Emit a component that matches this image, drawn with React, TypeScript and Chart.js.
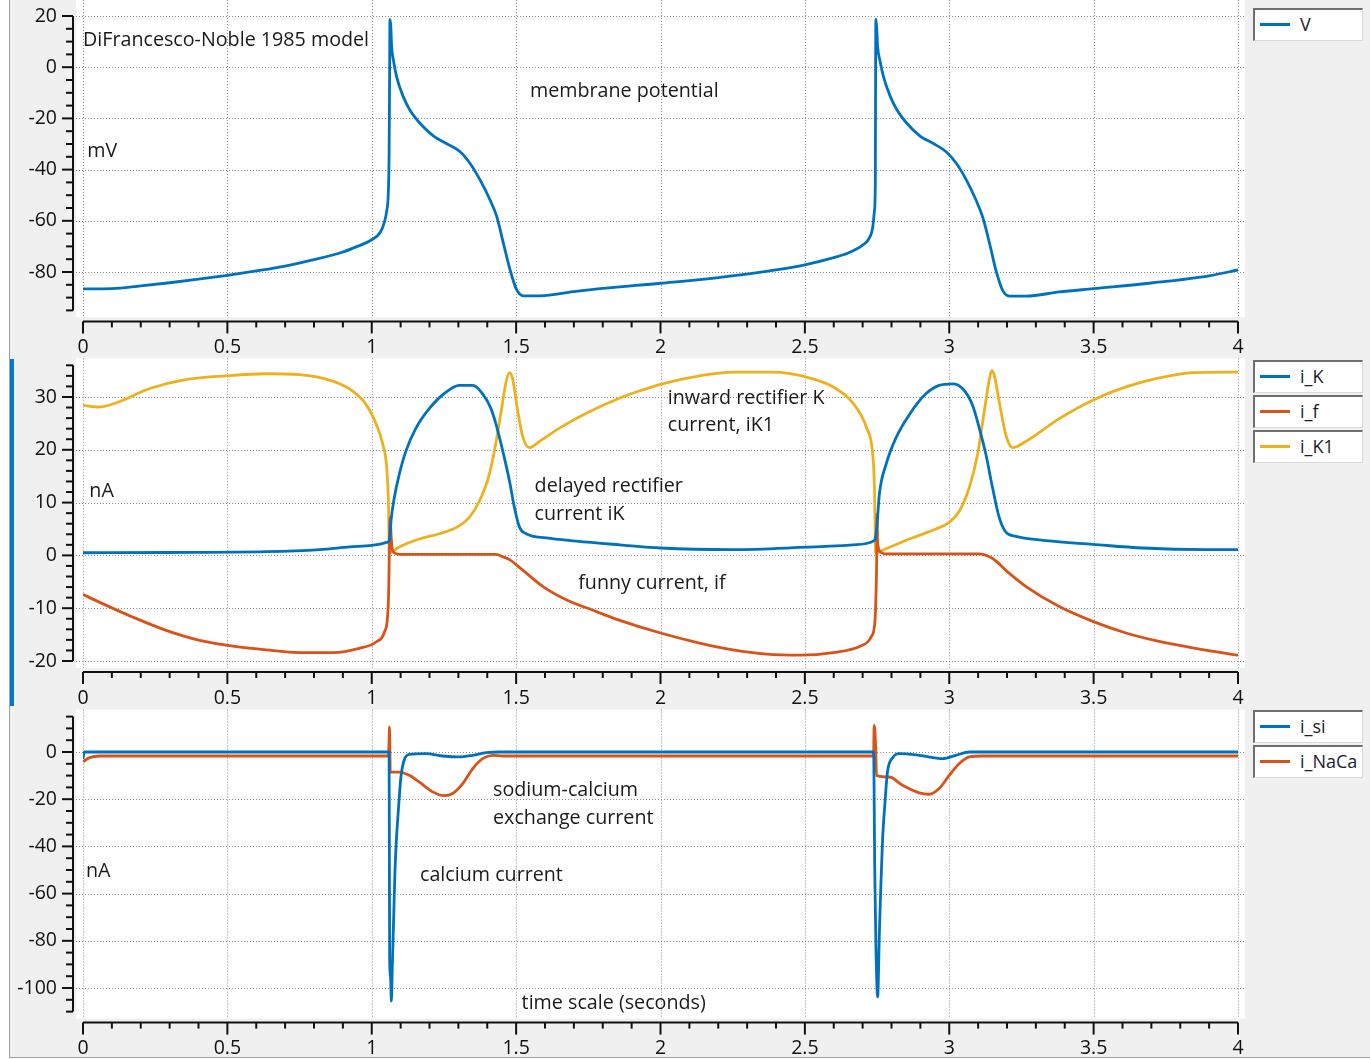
import React, { useEffect, useRef } from "react";
import { Chart, registerables } from "chart.js";

Chart.register(...registerables);

const FONT = "'Open Sans', 'Noto Sans', sans-serif";
const BLUE = "#0072BD";
const ORANGE = "#D95319";
const YELLOW = "#EDB120";

// ---- axis ticks ----
const TIME_TICKS = [0, 0.5, 1, 1.5, 2, 2.5, 3, 3.5, 4];
const TIME_MINOR_STEP = 0.1;
const V_TICKS = [-80, -60, -40, -20, 0, 20];
const MEMBRANE_TICKS = [-20, -10, 0, 10, 20, 30];
const CALCIUM_TICKS = [-100, -80, -60, -40, -20, 0];

// ---- series: [time (s), value] ----
const V_DATA: [number, number][] = [
  [0, -86.6], [0.1, -86.5], [0.2, -85.4], [0.3, -84.2], [0.4, -82.8], [0.5, -81.3], [0.6, -79.6],
  [0.7, -77.7], [0.8, -75.2], [0.9, -72.2], [0.95, -70], [1.0, -67.4], [1.03, -64.4], [1.045, -60],
  [1.052, -56], [1.057, -50], [1.06, -35], [1.062, 0], [1.063, 18.7], [1.066, 16], [1.069, 8],
  [1.075, 2.8], [1.086, -3.7], [1.109, -11.5], [1.132, -16.7], [1.167, -21.9], [1.213, -26.8],
  [1.26, -29.9], [1.306, -33], [1.34, -37.5], [1.375, -44], [1.41, -51.9], [1.433, -58.4],
  [1.456, -68.8], [1.479, -79.2], [1.502, -87], [1.525, -89.3], [1.583, -89.3], [1.698, -87.7],
  [1.8, -86.4], [2.0, -84.4], [2.2, -82.2], [2.4, -79.2], [2.5, -77.2], [2.6, -74.4], [2.65, -72.6],
  [2.7, -69.5], [2.72, -67.3], [2.735, -62.5], [2.741, -56], [2.744, -45], [2.745, 0], [2.746, 18.8],
  [2.749, 15], [2.752, 8], [2.76, 2.6], [2.772, -3.6], [2.795, -11.2], [2.818, -16.5], [2.85, -21.5],
  [2.9, -27], [2.945, -29.8], [2.99, -33.1], [3.025, -37.6], [3.06, -44.2], [3.093, -52],
  [3.116, -58.6], [3.14, -69], [3.162, -79.5], [3.185, -87.2], [3.208, -89.4], [3.266, -89.4],
  [3.381, -87.8], [3.5, -86.5], [3.7, -84.3], [3.9, -81.5], [4.0, -79.2],
];

const IK_DATA: [number, number][] = [
  [0, 0.5], [0.3, 0.55], [0.634, 0.7], [0.819, 1.1], [0.923, 1.6], [1.0, 1.9], [1.055, 2.5],
  [1.062, 3], [1.067, 6.7], [1.078, 10.9], [1.095, 15.3], [1.118, 19.7], [1.153, 24.1],
  [1.199, 27.8], [1.257, 30.9], [1.303, 32.2], [1.35, 32.2], [1.384, 30.6], [1.413, 27.8],
  [1.431, 24.7], [1.454, 19.7], [1.477, 14.1], [1.494, 9.1], [1.512, 5.3], [1.535, 4.1],
  [1.604, 3.3], [1.708, 2.7], [1.859, 2.0], [2.0, 1.4], [2.251, 1.1], [2.483, 1.5], [2.668, 2.0],
  [2.737, 2.7], [2.745, 3.5], [2.751, 6.6], [2.758, 11.6], [2.781, 17.2], [2.815, 22.2],
  [2.861, 26.6], [2.919, 30.6], [2.965, 32.2], [3.012, 32.5], [3.046, 31.6], [3.081, 28.4],
  [3.104, 24.1], [3.127, 19.1], [3.15, 12.8], [3.173, 7.2], [3.196, 4.4], [3.231, 3.6],
  [3.335, 2.8], [3.497, 2.1], [3.67, 1.4], [3.889, 1.1], [4.0, 1.1],
];

const IF_DATA: [number, number][] = [
  [0, -7.4], [0.058, -8.9], [0.173, -11.7], [0.288, -14.2], [0.404, -16.1], [0.496, -17.0],
  [0.634, -17.9], [0.75, -18.4], [0.865, -18.4], [0.957, -17.6], [1.015, -16.4], [1.044, -14.5],
  [1.055, -11.4], [1.059, -6], [1.061, 2], [1.063, 7.2], [1.068, 3], [1.072, 0.9], [1.095, 0.2],
  [1.431, 0.2], [1.455, -0.3], [1.477, -0.8], [1.523, -2.8], [1.593, -5.9], [1.674, -8.4],
  [1.766, -10.4], [1.859, -12.3], [2.0, -14.7], [2.135, -16.6], [2.251, -17.9], [2.367, -18.7],
  [2.483, -18.9], [2.598, -18.4], [2.691, -17.2], [2.731, -15.3], [2.743, -12.2], [2.747, -5.9],
  [2.749, 0.3], [2.75, 7.8], [2.752, 2.2], [2.763, 0.6], [2.775, 0.3], [3.104, 0.3], [3.15, -0.6],
  [3.208, -3.4], [3.266, -5.9], [3.381, -9.7], [3.497, -12.5], [3.612, -14.7], [3.727, -16.3],
  [3.843, -17.5], [4.0, -18.9],
];

const IK1_DATA: [number, number][] = [
  [0, 28.4], [0.058, 28.1], [0.115, 28.9], [0.231, 31.6], [0.346, 33.2], [0.496, 34.0],
  [0.634, 34.4], [0.75, 34.25], [0.865, 33.0], [0.934, 31.1], [0.98, 28.6], [1.015, 24.9],
  [1.038, 21.1], [1.052, 16.5], [1.058, 9.5], [1.061, 0.5], [1.095, 1.6], [1.164, 3.1],
  [1.234, 4.1], [1.303, 5.6], [1.338, 7.2], [1.373, 10.3], [1.407, 15.3], [1.431, 21.6],
  [1.448, 27.2], [1.465, 32.8], [1.477, 34.6], [1.488, 33.4], [1.506, 27.2], [1.523, 22.5],
  [1.546, 20.4], [1.581, 21.6], [1.65, 24.1], [1.743, 26.9], [1.859, 29.8], [1.93, 31.2],
  [2.0, 32.4], [2.135, 34.0], [2.251, 34.7], [2.39, 34.7], [2.506, 33.75], [2.598, 31.9],
  [2.668, 28.75], [2.714, 24.1], [2.735, 19.1], [2.741, 12.8], [2.745, 0.5], [2.781, 1.25],
  [2.861, 3.1], [2.954, 5.0], [3.0, 6.25], [3.035, 8.4], [3.069, 12.8], [3.098, 19.1],
  [3.121, 27.2], [3.139, 33.4], [3.147, 35.0], [3.156, 34.1], [3.173, 29.1], [3.196, 22.8],
  [3.219, 20.4], [3.266, 21.6], [3.381, 25.9], [3.497, 29.4], [3.612, 31.9], [3.727, 33.6],
  [3.843, 34.6], [4.0, 34.7],
];

const ISI_DATA: [number, number][] = [
  [0, -3], [0.004, 0], [1.06, 0], [1.061, -40], [1.062, -88], [1.065, -95], [1.068, -105.5],
  [1.071, -92], [1.076, -70], [1.08, -52], [1.085, -38], [1.093, -23.2], [1.101, -10.6],
  [1.112, -3.5], [1.13, -1.0], [1.188, -0.7], [1.245, -1.7], [1.303, -2.1], [1.35, -1.4],
  [1.396, -0.3], [1.442, 0], [2.738, 0], [2.742, -50], [2.746, -82], [2.752, -103.8],
  [2.758, -76.8], [2.763, -57], [2.769, -37.3], [2.778, -20.4], [2.786, -8.5], [2.804, -2.4],
  [2.827, -0.7], [2.896, -1.4], [2.977, -2.8], [3.023, -1.4], [3.069, 0], [4.0, 0],
];

const INACA_DATA: [number, number][] = [
  [0, -4.1], [0.023, -2.4], [0.058, -1.7], [1.058, -1.7], [1.06, 5], [1.061, 10.6], [1.063, 0],
  [1.064, -8.5], [1.095, -8.5], [1.13, -9.9], [1.164, -12.7], [1.211, -16.9], [1.251, -18.5],
  [1.28, -17.6], [1.315, -13.4], [1.35, -7.0], [1.384, -2.8], [1.419, -1.4], [1.454, -1.7],
  [2.734, -1.7], [2.738, -0.7], [2.74, 11.3], [2.745, 3], [2.748, -9.9], [2.792, -10.6],
  [2.838, -14.1], [2.896, -17.3], [2.931, -17.9], [2.965, -15.5], [3.0, -9.9], [3.035, -4.9],
  [3.069, -2.1], [3.115, -1.7], [4.0, -1.7],
];

type Series = { label: string; color: string; data: [number, number][] };
type Note = { text: string; x: number; y: number };
type PanelCfg = {
  top: number;
  height: number;
  padTop: number;
  xHeight: number;
  yMin: number;
  yMax: number;
  yTicks: number[];
  yMinor: number;
  whiteTop: number;
  legendTop: number;
  series: Series[];
  notes: Note[];
};

const PANELS: PanelCfg[] = [
  {
    top: 0, height: 355, padTop: 16, xHeight: 44.6,
    yMin: -95, yMax: 20, yTicks: V_TICKS, yMinor: 5, whiteTop: 16, legendTop: 8,
    series: [{ label: "V", color: BLUE, data: V_DATA }],
    notes: [
      { text: "DiFrancesco-Noble 1985 model", x: 0.0, y: 10.6 },
      { text: "membrane potential", x: 1.548, y: -9.3 },
      { text: "mV", x: 0.015, y: -32.8 },
    ],
  },
  {
    top: 355, height: 352, padTop: 10.3, xHeight: 46,
    yMin: -20, yMax: 36, yTicks: MEMBRANE_TICKS, yMinor: 2, whiteTop: 7, legendTop: 360,
    series: [
      { label: "i_K", color: BLUE, data: IK_DATA },
      { label: "i_f", color: ORANGE, data: IF_DATA },
      { label: "i_K1", color: YELLOW, data: IK1_DATA },
    ],
    notes: [
      { text: "inward rectifier K", x: 2.025, y: 29.8 },
      { text: "current, iK1", x: 2.025, y: 24.7 },
      { text: "nA", x: 0.022, y: 12.1 },
      { text: "delayed rectifier", x: 1.564, y: 13.0 },
      { text: "current iK", x: 1.564, y: 7.8 },
      { text: "funny current, if", x: 1.715, y: -5.3 },
    ],
  },
  {
    top: 707, height: 352, padTop: 9.6, xHeight: 47.4,
    yMin: -110, yMax: 15, yTicks: CALCIUM_TICKS, yMinor: 5, whiteTop: 7, legendTop: 710,
    series: [
      { label: "i_si", color: BLUE, data: ISI_DATA },
      { label: "i_NaCa", color: ORANGE, data: INACA_DATA },
    ],
    notes: [
      { text: "sodium-calcium", x: 1.42, y: -16.4 },
      { text: "exchange current", x: 1.42, y: -28.1 },
      { text: "calcium current", x: 1.167, y: -52.1 },
      { text: "nA", x: 0.01, y: -50.7 },
      { text: "time scale (seconds)", x: 1.519, y: -106.5 },
    ],
  },
];

const CANVAS_W = 1250;
const TICK_FONT = 19.5;
const NOTE_FONT = 19.7;

function makeDeco(cfg: PanelCfg) {
  return {
    id: "deco",
    beforeDraw(chart: any) {
      const { ctx, chartArea: a } = chart;
      const xs = chart.scales.x;
      const ys = chart.scales.y;
      const L = a.left - 7;
      const R = a.right + 7;
      const T = a.top - cfg.whiteTop;
      const B = a.bottom + 7;
      const seg = (x1: number, y1: number, x2: number, y2: number) => {
        ctx.beginPath();
        ctx.moveTo(x1, y1);
        ctx.lineTo(x2, y2);
        ctx.stroke();
      };
      ctx.save();
      ctx.fillStyle = "#ffffff";
      ctx.fillRect(L, T, R - L, B - T);
      // dotted grid
      ctx.strokeStyle = "#8c8c8c";
      ctx.lineWidth = 1;
      ctx.setLineDash([1, 2]);
      for (const v of TIME_TICKS) {
        const p = Math.round(xs.getPixelForValue(v)) + 0.5;
        seg(p, T, p, B);
      }
      for (const v of cfg.yTicks) {
        const p = Math.round(ys.getPixelForValue(v)) + 0.5;
        seg(L, p, R, p);
      }
      ctx.setLineDash([]);
      // y axis
      ctx.strokeStyle = "#111111";
      ctx.lineWidth = 2;
      const ax = a.left - 10;
      seg(ax, a.top, ax, a.bottom);
      const i0 = Math.ceil(cfg.yMin / cfg.yMinor - 1e-9);
      const i1 = Math.floor(cfg.yMax / cfg.yMinor + 1e-9);
      for (let i = i0; i <= i1; i++) {
        const v = i * cfg.yMinor;
        const p = ys.getPixelForValue(v);
        const major = cfg.yTicks.some((t) => Math.abs(t - v) < 1e-6);
        seg(ax - (major ? 11 : 7), p, ax, p);
      }
      // x axis
      const ay = a.bottom + 11;
      seg(a.left, ay, a.right, ay);
      const n = Math.round(4 / TIME_MINOR_STEP);
      for (let i = 0; i <= n; i++) {
        const v = i * TIME_MINOR_STEP;
        const p = xs.getPixelForValue(v);
        const major = TIME_TICKS.some((t) => Math.abs(t - v) < 1e-6);
        seg(p, ay, p, ay + (major ? 12 : 6));
      }
      ctx.restore();
    },
    afterDraw(chart: any) {
      const { ctx } = chart;
      const xs = chart.scales.x;
      const ys = chart.scales.y;
      ctx.save();
      ctx.font = `${NOTE_FONT}px ${FONT}`;
      ctx.fillStyle = "#1a1a1a";
      ctx.textAlign = "left";
      ctx.textBaseline = "middle";
      for (const n of cfg.notes) {
        ctx.fillText(n.text, xs.getPixelForValue(n.x), ys.getPixelForValue(n.y));
      }
      ctx.restore();
    },
  };
}

function Panel({ cfg }: { cfg: PanelCfg }) {
  const ref = useRef<HTMLCanvasElement>(null);
  useEffect(() => {
    const canvas = ref.current;
    if (!canvas) return;
    const chart = new Chart(canvas, {
      type: "line",
      data: {
        datasets: cfg.series.map((s) => ({
          label: s.label,
          data: s.data.map(([x, y]) => ({ x, y })),
          borderColor: s.color,
          backgroundColor: s.color,
          borderWidth: 2.8,
          pointRadius: 0,
          pointHoverRadius: 0,
          cubicInterpolationMode: "monotone",
          fill: false,
        })),
      },
      options: {
        animation: false,
        responsive: false,
        maintainAspectRatio: false,
        events: [],
        layout: { autoPadding: false, padding: { top: cfg.padTop, right: 12, bottom: 0, left: 0 } },
        plugins: { legend: { display: false }, tooltip: { enabled: false } },
        scales: {
          x: {
            type: "linear",
            min: 0,
            max: 4,
            afterBuildTicks: (s: any) => {
              s.ticks = TIME_TICKS.map((v) => ({ value: v }));
            },
            afterFit: (s: any) => {
              s.height = cfg.xHeight;
              s.paddingLeft = 0;
              s.paddingRight = 0;
            },
            grid: { display: false, drawTicks: false },
            border: { display: false },
            ticks: {
              autoSkip: false,
              maxRotation: 0,
              padding: 25.5,
              color: "#111111",
              font: { family: FONT, size: TICK_FONT },
              callback: (v: any) => String(v),
            },
          },
          y: {
            type: "linear",
            min: cfg.yMin,
            max: cfg.yMax,
            afterBuildTicks: (s: any) => {
              s.ticks = cfg.yTicks.map((v) => ({ value: v }));
            },
            afterFit: (s: any) => {
              s.width = 83;
              s.paddingTop = 0;
              s.paddingBottom = 0;
            },
            grid: { display: false, drawTicks: false },
            border: { display: false },
            ticks: {
              padding: 26,
              color: "#111111",
              font: { family: FONT, size: TICK_FONT },
              callback: (v: any) => String(v),
            },
          },
        },
      } as any,
      plugins: [makeDeco(cfg)],
    });
    return () => chart.destroy();
  }, [cfg]);
  return (
    <canvas
      ref={ref}
      width={CANVAS_W}
      height={cfg.height}
      style={{ position: "absolute", left: 0, top: cfg.top, width: CANVAS_W, height: cfg.height, display: "block" }}
    />
  );
}

function Legend({ cfg }: { cfg: PanelCfg }) {
  return (
    <>
      {cfg.series.map((s, i) => (
        <div
          key={s.label}
          style={{
            position: "absolute",
            left: 1253,
            top: cfg.legendTop + i * 35,
            width: 110,
            height: 33,
            boxSizing: "border-box",
            background: "#ffffff",
            borderTop: "2px solid #6f6f6f",
            borderLeft: "2px solid #6f6f6f",
            borderRight: "1px solid #dadada",
            borderBottom: "1px solid #dadada",
          }}
        >
          <div style={{ position: "absolute", left: 5, top: 13, width: 30, height: 3, background: s.color }} />
          <span
            style={{
              position: "absolute",
              left: 45,
              top: 2,
              font: `18px ${FONT}`,
              lineHeight: "24px",
              color: "#1c1c2c",
              whiteSpace: "nowrap",
            }}
          >
            {s.label}
          </span>
        </div>
      ))}
    </>
  );
}

export default function App() {
  return (
    <div
      style={{
        position: "absolute",
        left: 0,
        top: 0,
        width: 1370,
        height: 1059,
        overflow: "hidden",
        background: "#ffffff",
      }}
    >
      <div
        style={{
          position: "absolute",
          left: 9,
          top: 0,
          width: 1361,
          height: 1058,
          boxSizing: "border-box",
          background: "#f0f0f0",
          borderLeft: "1px solid #a0a0a0",
          borderBottom: "1px solid #a0a0a0",
        }}
      />
      <div style={{ position: "absolute", left: 10, top: 359, width: 4, height: 347, background: "#0078d7" }} />
      {PANELS.map((p, i) => (
        <Panel key={i} cfg={p} />
      ))}
      {PANELS.map((p, i) => (
        <Legend key={"l" + i} cfg={p} />
      ))}
    </div>
  );
}
